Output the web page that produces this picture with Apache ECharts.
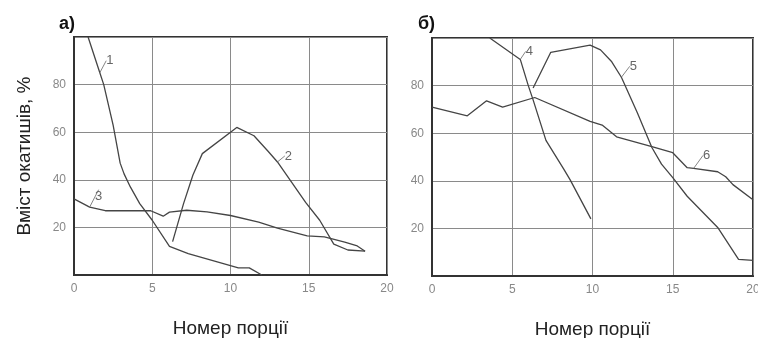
<!DOCTYPE html>
<html>
<head>
<meta charset="utf-8">
<script src="https://cdn.jsdelivr.net/npm/echarts@6/dist/echarts.min.js"></script>
<style>
  html, body { margin: 0; padding: 0; background: #fff; }
  #chart { width: 758px; height: 338px; }
</style>
</head>
<body>
<div id="chart"></div>
<script>
// дані: [номер порції, вміст окатишів %]
var xTicks = [0, 5, 10, 15, 20];
var yTicks = [20, 40, 60, 80];
var curveNames = ['1', '2', '3', '4', '5', '6'];

var curve1 = [[0.9, 100], [1.65, 85], [1.9, 80], [2.5, 63], [2.95, 47], [3.2, 42.5], [3.6, 37], [4.2, 30], [5, 23], [6.1, 12], [7.3, 9], [10.5, 3], [11.2, 3], [12, 0]];
var curve2 = [[6.3, 14], [7.0, 30], [7.6, 42], [8.2, 51], [10.4, 62], [11.5, 58.5], [12.4, 52], [13.0, 47.5], [14.8, 30.5], [15.7, 23], [16.6, 13], [17.5, 10.5], [18.6, 10]];
var curve3 = [[0, 32], [1.0, 28.5], [2.0, 27], [4.9, 27], [5.7, 24.7], [6.1, 26.4], [7.2, 27.2], [8.5, 26.5], [10, 25], [11.8, 22.2], [13, 19.7], [14.9, 16.4], [16.0, 16], [17.3, 13.8], [18.1, 12.2], [18.6, 10]];

var curve4 = [[3.6, 100], [5.5, 91], [6.0, 80], [6.3, 74], [7.1, 57], [8.2, 45], [8.6, 40.5], [9.9, 24]];
var curve5 = [[6.3, 79], [7.4, 94], [9.85, 97], [10.5, 95], [11.2, 90], [11.8, 83.5], [12.8, 68.5], [13.7, 54], [14.3, 47], [15.0, 41.3], [15.9, 33.5], [17.8, 20.4], [19.1, 7], [20, 6.6]];
var curve6 = [[0, 71], [2.2, 67.3], [3.4, 73.6], [4.4, 71], [6.4, 75], [9.85, 65], [10.6, 63.4], [11.5, 58.5], [13.7, 54.4], [15, 51.8], [15.9, 45.5], [16.3, 45.2], [17.8, 43.8], [18.3, 41.7], [18.75, 38.4], [20, 32]];

var chartDom = document.getElementById('chart');
var myChart = echarts.init(chartDom);

var lineColor = '#454545';
var font = 'Liberation Sans, Arial, sans-serif';

// серія з підписом номера кривої біля однієї точки
function makeSeries(name, data, idx, labelIndex, dx, dy) {
    var items = data.map(function (p, i) {
        if (i === labelIndex) {
            return {
                value: p,
                label: {
                    show: true,
                    position: 'inside',
                    formatter: name,
                    color: '#666',
                    fontFamily: font,
                    fontSize: 13
                }
            };
        }
        return p;
    });
    return {
        name: name,
        type: 'line',
        xAxisIndex: idx,
        yAxisIndex: idx,
        data: items,
        symbol: 'circle',
        symbolSize: 0,
        showSymbol: true,
        showAllSymbol: true,
        silent: true,
        lineStyle: { color: lineColor, width: 1.3 },
        itemStyle: { color: lineColor },
        label: { show: false },
        labelLine: {
            show: true,
            lineStyle: { color: '#666', width: 0.8 }
        },
        labelLayout: function (params) {
            if (params.dataIndex === labelIndex) {
                return { dx: dx, dy: dy };
            }
        },
        emphasis: { disabled: true },
        z: 3
    };
}

function xAxisCfg(idx) {
    return {
        type: 'value',
        gridIndex: idx,
        min: 0,
        max: 20,
        interval: 5,
        axisLine: { show: true, lineStyle: { color: '#333', width: 2 } },
        axisTick: { show: false },
        axisLabel: {
            color: '#888',
            fontFamily: font,
            fontSize: 12,
            margin: 8,
            formatter: function (v) { return xTicks.indexOf(v) >= 0 ? String(v) : ''; }
        },
        splitLine: { show: true, lineStyle: { color: '#8a8a8a', width: 1 } },
        name: 'Номер порції',
        nameLocation: 'middle',
        nameGap: 44,
        nameTextStyle: { color: '#222', fontFamily: font, fontSize: 19 }
    };
}

function yAxisCfg(idx, withName) {
    var cfg = {
        type: 'value',
        gridIndex: idx,
        min: 0,
        max: 100,
        interval: 20,
        axisLine: { show: true, lineStyle: { color: '#333', width: 2 } },
        axisTick: { show: false },
        axisLabel: {
            color: '#888',
            fontFamily: font,
            fontSize: 12,
            margin: 8,
            formatter: function (v) { return yTicks.indexOf(v) >= 0 ? String(v) : ''; }
        },
        splitLine: { show: true, lineStyle: { color: '#8a8a8a', width: 1 } }
    };
    if (withName) {
        cfg.name = 'Вміст окатишів, %';
        cfg.nameLocation = 'middle';
        cfg.nameGap = 40;
        cfg.nameTextStyle = { color: '#222', fontFamily: font, fontSize: 19 };
    }
    return cfg;
}

var option = {
    backgroundColor: '#fff',
    animation: false,
    title: [
        { text: 'а)', left: 54, top: 10, textStyle: { fontFamily: font, fontSize: 18, fontWeight: 'bold', color: '#111' } },
        { text: 'б)', left: 413, top: 10, textStyle: { fontFamily: font, fontSize: 18, fontWeight: 'bold', color: '#111' } }
    ],
    grid: [
        { left: 74, top: 37, width: 313, height: 238, outerBoundsMode: 'none', show: true, borderColor: '#333', borderWidth: 2, backgroundColor: '#fff' },
        { left: 432, top: 38, width: 321, height: 238, outerBoundsMode: 'none', show: true, borderColor: '#333', borderWidth: 2, backgroundColor: '#fff' }
    ],
    xAxis: [xAxisCfg(0), xAxisCfg(1)],
    yAxis: [yAxisCfg(0, true), yAxisCfg(1, false)],
    series: [
        makeSeries(curveNames[0], curve1, 0, 1, 10, -12),
        makeSeries(curveNames[1], curve2, 0, 7, 11, -6),
        makeSeries(curveNames[2], curve3, 0, 1, 9, -11),
        makeSeries(curveNames[3], curve4, 1, 1, 9, -8),
        makeSeries(curveNames[4], curve5, 1, 5, 12, -11),
        makeSeries(curveNames[5], curve6, 1, 11, 13, -13)
    ]
};

myChart.setOption(option);
</script>
</body>
</html>
